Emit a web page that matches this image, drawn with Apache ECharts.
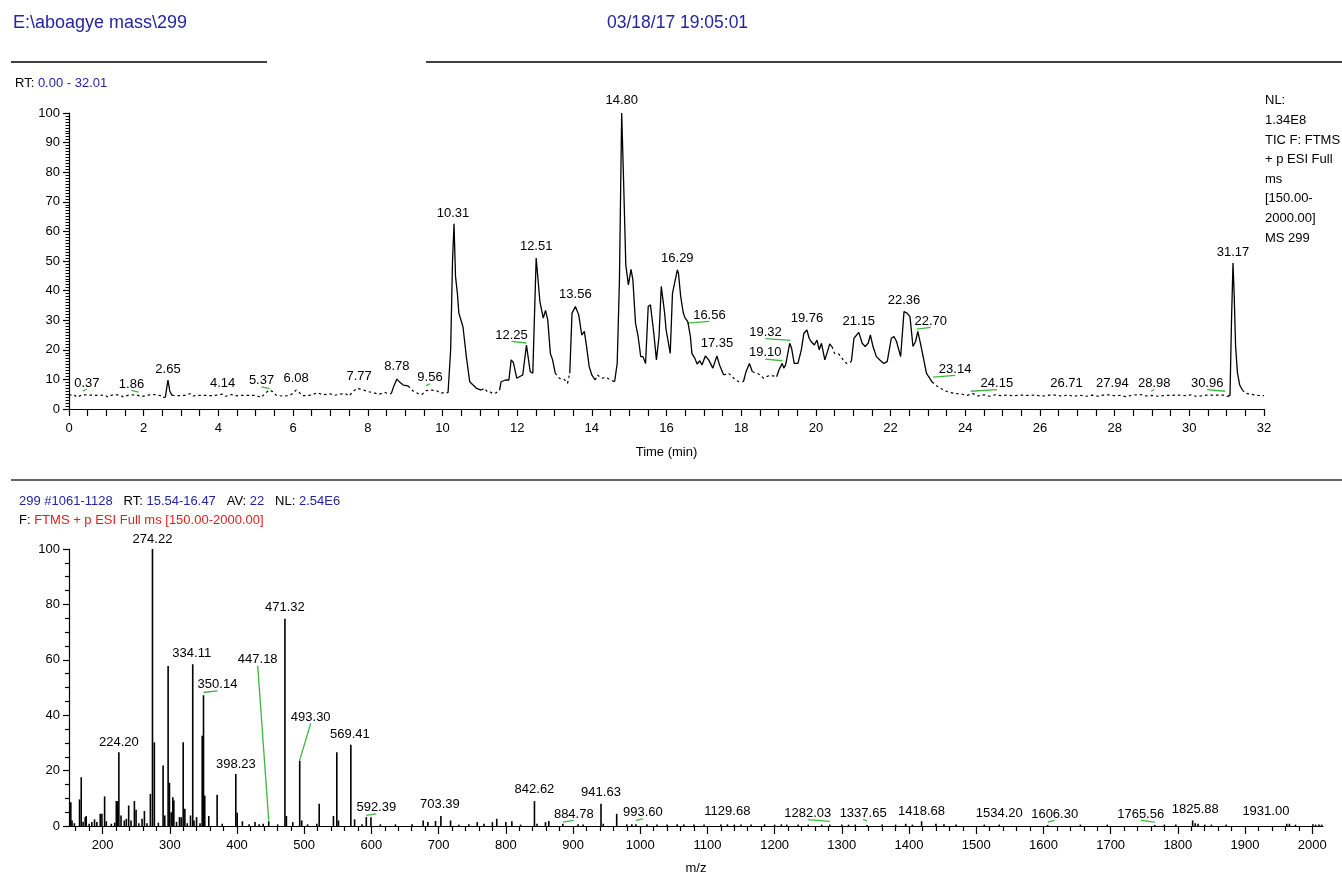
<!DOCTYPE html>
<html>
<head>
<meta charset="utf-8">
<script src="https://cdn.jsdelivr.net/npm/echarts@6/dist/echarts.min.js"></script>
<style>
html,body{margin:0;padding:0;background:#fff;}
#chart{width:1342px;height:876px;}
</style>
</head>
<body>
<div id="chart"></div>
<script>
// ---------------- Chromatogram (TIC) ----------------
const rtTime = [0.00,0.12,0.22,0.35,0.55,0.75,0.95,1.05,1.15,1.35,1.45,1.60,1.80,1.95,2.10,2.30,2.45,2.52,2.58,2.65,2.70,2.76,2.90,3.10,3.25,3.32,3.45,3.65,3.85,4.00,4.10,4.20,4.35,4.45,4.60,4.80,5.00,5.15,5.25,5.37,5.47,5.55,5.70,5.90,6.00,6.08,6.15,6.25,6.40,6.55,6.65,6.80,7.00,7.10,7.25,7.40,7.50,7.60,7.71,7.85,8.00,8.15,8.30,8.45,8.55,8.63,8.70,8.78,8.86,8.95,9.08,9.20,9.35,9.45,9.56,9.70,9.85,9.95,10.05,10.15,10.22,10.27,10.31,10.35,10.40,10.44,10.48,10.55,10.64,10.73,10.82,10.91,11.04,11.13,11.20,11.26,11.35,11.44,11.53,11.57,11.69,11.78,11.84,11.90,11.99,12.06,12.15,12.25,12.29,12.35,12.42,12.51,12.56,12.61,12.70,12.76,12.82,12.89,12.95,13.02,13.13,13.26,13.35,13.41,13.47,13.51,13.56,13.65,13.73,13.80,13.86,13.93,14.00,14.09,14.15,14.27,14.37,14.51,14.61,14.68,14.74,14.80,14.85,14.91,14.98,15.05,15.10,15.17,15.24,15.31,15.37,15.44,15.51,15.57,15.66,15.73,15.80,15.86,15.95,15.99,16.04,16.10,16.16,16.29,16.32,16.38,16.45,16.50,16.57,16.64,16.68,16.76,16.82,16.89,16.95,17.04,17.13,17.24,17.35,17.42,17.53,17.66,17.80,17.93,18.06,18.13,18.22,18.30,18.42,18.51,18.60,18.73,18.86,18.95,19.01,19.10,19.14,19.19,19.30,19.35,19.42,19.52,19.61,19.68,19.76,19.82,19.87,19.96,20.03,20.09,20.15,20.24,20.31,20.37,20.43,20.50,20.61,20.73,20.82,20.95,21.02,21.15,21.24,21.32,21.40,21.46,21.53,21.62,21.72,21.82,21.91,22.02,22.09,22.16,22.27,22.36,22.44,22.52,22.60,22.67,22.73,22.80,22.89,22.96,23.02,23.11,23.20,23.33,23.51,23.69,23.87,24.05,24.20,24.35,24.50,24.65,24.80,24.95,25.10,25.30,25.50,25.70,25.90,26.05,26.25,26.45,26.60,26.75,26.90,27.05,27.25,27.40,27.55,27.70,27.85,28.00,28.15,28.30,28.50,28.70,28.85,29.00,29.15,29.35,29.50,29.70,29.90,30.05,30.20,30.40,30.55,30.75,30.95,31.02,31.09,31.13,31.17,31.20,31.24,31.29,31.35,31.42,31.51,31.65,31.80,32.00];
const rtIntensity = [4.6,4.9,4.0,4.8,4.7,4.6,4.7,4.0,4.7,4.8,4.1,4.7,4.8,4.2,4.7,4.9,4.5,3.9,4.0,9.8,6.0,4.6,4.5,4.6,5.2,4.4,4.6,4.6,4.5,4.7,5.0,4.3,4.9,4.4,4.6,4.6,4.6,3.9,5.3,6.4,5.8,4.6,4.4,4.5,5.3,6.4,5.8,4.5,4.5,5.0,5.5,4.8,5.1,4.6,5.0,5.2,4.4,5.8,7.0,6.6,5.9,5.5,5.0,5.6,5.2,5.2,7.8,10.1,9.0,8.1,7.8,6.2,5.2,4.9,6.2,6.4,6.2,5.3,5.6,5.5,20.0,50.0,62.6,44.8,39.1,32.4,31.8,27.8,17.7,9.2,8.1,7.0,6.4,7.0,5.8,5.9,5.2,5.5,6.4,9.2,9.8,9.8,16.6,15.7,10.4,10.9,11.5,21.6,21.1,12.6,12.1,51.0,50.4,36.3,30.7,33.3,30.1,18.8,16.6,12.1,10.4,10.0,8.7,12.1,32.4,32.9,34.6,31.8,25.0,26.2,21.1,14.3,11.5,9.8,11.5,10.4,10.7,9.8,9.2,15.4,43.6,100.0,77.5,48.7,41.9,47.2,43.6,29.0,24.5,17.7,17.7,15.4,34.6,35.2,25.6,16.6,24.5,41.4,32.4,26.7,27.3,18.8,39.1,47.0,45.9,38.0,32.4,30.7,29.5,24.5,18.8,17.1,15.2,16.3,14.9,17.9,16.6,13.8,17.9,14.9,11.5,12.1,10.4,9.2,9.2,12.6,15.4,12.6,12.1,11.5,10.4,11.2,11.2,10.9,13.2,15.4,13.8,14.9,22.2,20.5,15.4,15.4,20.0,25.6,26.7,23.9,22.8,21.6,23.3,20.0,22.2,16.6,19.4,22.0,21.1,18.8,18.6,16.6,15.4,16.0,23.9,25.9,22.2,21.1,22.2,25.0,21.1,17.7,16.5,15.4,16.0,23.9,24.5,22.8,17.7,32.9,32.4,31.2,21.1,22.8,26.2,22.2,16.6,12.1,10.9,9.2,8.1,7.0,5.9,5.3,5.1,4.6,5.2,4.4,4.8,4.3,4.8,4.5,4.7,4.5,4.7,4.6,4.7,4.3,4.7,4.7,4.3,4.8,4.2,4.7,4.3,4.7,4.3,4.7,4.8,4.5,4.6,4.2,4.7,4.9,4.4,4.6,4.3,4.6,4.6,4.7,4.5,4.8,4.2,4.6,4.7,4.7,4.7,4.2,4.7,30.0,49.3,39.1,21.1,12.1,8.1,6.4,5.3,5.0,4.6,4.5];
// stretches of the trace drawn as a solid line (rest is dotted baseline)
const rtSolidSpans = [[2.50,2.80],[8.60,9.10],[10.15,11.00],[11.55,13.00],[13.38,14.05],[14.62,17.50],[18.08,18.35],[18.97,20.45],[20.95,23.15],[31.05,31.45]];
const rtTicks = [0,2,4,6,8,10,12,14,16,18,20,22,24,26,28,30,32];

// peak annotations (label text = retention time), level = annotation anchor height
const rtLabelTexts  = ['0.37','1.86','2.65','4.14','5.37','6.08','7.77','8.78','9.56','10.31','12.25','12.51','13.56','14.80','16.29','16.56','17.35','19.10','19.32','19.76','21.15','22.36','22.70','23.14','24.15','26.71','27.94','28.98','30.96','31.17'];
const rtLabelLevels = [6.1,5.7,10.7,6.0,6.9,7.7,8.2,11.8,7.9,63.5,22.3,52.1,36.1,101.4,48.0,29.0,19.3,16.3,23.2,28.0,27.0,34.1,27.0,10.8,6.0,6.0,6.0,6.0,6.0,50.1];
// label nudges in pixels [dx, dy]
const rtLabelNudge = [[4,0],[-7,0],[0,0],[-1,0],[-8,0],[0,0],[0,0],[0,0],[4,0],[-1,0],[-15,0],[0,0],[0,0],[0,0],[0,0],[22,0],[0,0],[-17,0],[-25,0],[0,0],[0,0],[0,0],[14,0],[22,0],[26,0],[0,0],[0,0],[3,0],[-18,0],[0,0]];

// ---------------- Mass spectrum ----------------
const specMz = [152.7,154.5,158,165.7,168.2,171,174.1,175.6,180,184,188,191.5,196.5,199,203,205.5,213,218,220.4,222.4,224.20,227.4,232.3,235.3,238.8,242.3,247.3,249.8,254,258.7,262.2,266,271.1,274.22,277,283,290,292.5,297.5,299.5,302,304.5,306,310,314.4,316.9,319.9,322.4,326,330.8,334.11,336,339.8,345,348.2,350.14,352,358,370.4,378,398.23,400.3,408,418,426.8,433,439,447.18,460.5,471.32,473.5,483,493.30,496.3,505,518.8,522.3,543.5,548.5,551,569.41,575,586,592.39,599.3,613.3,635.7,660.5,677,684,695.4,703.39,717.8,730,745,757.5,767.5,780,786.5,800,809,822,842.62,846.5,859,864,884.78,907.5,915,941.63,945,965,980,987.5,993.6,1010,1025,1040,1055,1065,1080,1095,1120,1129.68,1140,1150,1165,1185,1200,1210,1218,1235,1250,1270,1282.03,1300,1310,1320,1337.65,1360,1380,1395,1405,1418.68,1440,1452,1470,1512,1534.2,1606.3,1655,1695,1765.56,1780,1797,1822,1825.88,1830,1840,1850,1872,1962,1966,1975,2001,2005,2010,2014];
const specIntensity = [8.6,2.0,1.0,9.6,17.6,1.5,3.2,3.6,0.8,1.4,2.4,1.4,4.4,4.4,10.7,1.7,0.8,1.2,9.0,9.0,26.6,3.8,2.0,2.6,7.4,2.0,9.0,5.9,1.0,2.6,5.4,1.0,11.6,100.0,30.2,1.2,21.8,3.8,57.8,15.6,5.0,10.4,9.2,1.5,3.2,3.2,30.2,6.2,1.0,3.8,58.4,2.0,3.2,1.0,32.6,47.2,11.0,3.6,11.3,0.8,18.8,4.8,1.7,0.6,1.4,0.6,0.8,1.7,0.6,74.8,3.6,1.4,23.6,2.0,0.6,0.8,8.0,3.6,26.6,2.0,29.3,2.4,0.6,3.2,3.2,0.6,0.6,0.6,2.0,1.4,1.8,3.6,2.0,0.5,0.6,1.4,0.8,1.4,2.6,1.4,1.7,0.5,9.0,0.8,1.4,1.8,0.8,0.6,0.5,8.0,0.8,4.4,0.6,0.6,0.6,0.6,0.5,0.5,0.6,0.5,0.5,0.5,0.5,0.6,0.5,0.5,0.5,0.6,0.5,0.6,0.5,0.5,0.5,0.5,0.5,0.5,0.5,0.5,0.4,0.5,0.5,0.8,0.5,1.7,0.8,0.6,0.5,0.5,0.5,0.4,0.5,0.5,0.4,0.5,0.5,2.0,1.0,0.8,0.5,0.5,0.5,0.8,0.8,0.5,0.6,0.5,0.5,0.5];
const specMajorTicks = [200,300,400,500,600,700,800,900,1000,1100,1200,1300,1400,1500,1600,1700,1800,1900,2000];

const specLabelTexts  = ['224.20','274.22','334.11','350.14','398.23','447.18','471.32','493.30','569.41','592.39','703.39','842.62','884.78','941.63','993.60','1129.68','1282.03','1337.65','1418.68','1534.20','1606.30','1765.56','1825.88','1931.00'];
const specLabelLevels = [27.3,100.7,59.5,48.2,19.5,2.0,76.1,23.8,30.3,3.8,4.8,10.2,1.4,9.1,2.0,2.4,1.7,1.8,2.5,1.5,1.4,1.4,3.1,2.2];
const specLabelNudge  = [[0,0],[0,0],[-1,0],[14,0],[0,0],[-11,-153],[0,0],[11,-35],[-1,0],[10,0],[-1,0],[0,0],[11,0],[0,0],[7,0],[0,0],[-22,0],[-4,0],[0,0],[0,0],[7,0],[-14,0],[0,0],[0,0]];

// ---------------- build ----------------
const FONT = '"Liberation Sans", Arial, sans-serif';
const BLUE = '#2424a6', RED = '#e0201e', GREEN = '#3cb83c';

function inSolid(t){ return rtSolidSpans.some(s => t >= s[0] && t <= s[1]); }
const solidData = [], dottedData = [];
for (let i = 0; i < rtTime.length; i++) {
  const prevSolid = i > 0 ? inSolid((rtTime[i-1]+rtTime[i])/2) : null;
  const nextSolid = i < rtTime.length-1 ? inSolid((rtTime[i]+rtTime[i+1])/2) : null;
  const s = prevSolid === true || nextSolid === true;
  const d = prevSolid === false || nextSolid === false;
  solidData.push([rtTime[i], s ? rtIntensity[i] : null]);
  dottedData.push([rtTime[i], d ? rtIntensity[i] : null]);
}

function labelRenderer(texts, nudges){
  return function(params, api){
    const i = params.dataIndex;
    const p = api.coord([api.value(0), api.value(1)]);
    const dx = nudges[i][0], dy = nudges[i][1];
    const lx = p[0] + dx, ly = p[1] + dy;
    const children = [];
    if (Math.abs(dx) > 1.5 || Math.abs(dy) > 1.5) {
      children.push({type:'line', shape:{x1:p[0], y1:p[1], x2:lx, y2:ly-1.7}, style:{stroke:GREEN, lineWidth:1.3}});
    }
    children.push({type:'text', x:lx, y:ly-8, style:{text:texts[i], font:'13px '+FONT, fill:'#000', align:'center', verticalAlign:'middle'}});
    return {type:'group', children};
  };
}

const specMinorTicks = [];
for (let v = 160; v <= 2000; v += 20) if (v % 100 !== 0) specMinorTicks.push(v);

const axisCommon = {
  axisLine:{lineStyle:{color:'#000', width:1.2}},
  axisTick:{lineStyle:{color:'#000', width:1.2}},
  axisLabel:{color:'#000', fontSize:13, fontFamily:FONT},
  splitLine:{show:false}
};

const chart = echarts.init(document.getElementById('chart'), null, {renderer:'canvas'});
const option = {
  animation:false,
  backgroundColor:'#fff',
  grid:[
    {left:69, top:113, width:1195, height:296},
    {left:69, top:549, width:1254, height:278}
  ],
  xAxis:[
    Object.assign({}, axisCommon, {gridIndex:0, type:'value', min:0, max:32, interval:2, position:'bottom',
      axisTick:{length:7, lineStyle:{color:'#000', width:1.2}},
      minorTick:{show:true, splitNumber:4, length:7, lineStyle:{color:'#000', width:1.2}},
      axisLabel:{color:'#000', fontSize:13, fontFamily:FONT, margin:13, formatter: v => rtTicks.includes(v) ? String(v) : ''},
      name:'Time (min)', nameLocation:'middle', nameGap:37, nameTextStyle:{color:'#000', fontSize:13, fontFamily:FONT}}),
    Object.assign({}, axisCommon, {gridIndex:1, type:'value', min:150, max:2016, position:'bottom',
      axisTick:{length:8, customValues:specMajorTicks, lineStyle:{color:'#000', width:1.2}},
      axisLabel:{color:'#000', fontSize:13, fontFamily:FONT, margin:13, customValues:specMajorTicks, formatter: v => String(v)},
      name:'m/z', nameLocation:'middle', nameGap:36, nameTextStyle:{color:'#000', fontSize:13, fontFamily:FONT}}),
    {gridIndex:1, type:'value', min:150, max:2016, position:'bottom', offset:0,
      axisLine:{show:false}, axisLabel:{show:false}, splitLine:{show:false},
      axisTick:{show:true, length:5, customValues:specMinorTicks, lineStyle:{color:'#000', width:1.2}}}
  ],
  yAxis:[
    Object.assign({}, axisCommon, {gridIndex:0, type:'value', min:0, max:100, interval:10,
      axisTick:{length:6, lineStyle:{color:'#000', width:1.2}},
      minorTick:{show:true, splitNumber:10, length:3.5, lineStyle:{color:'#000', width:1}},
      axisLabel:{color:'#000', fontSize:13, fontFamily:FONT, margin:9}}),
    Object.assign({}, axisCommon, {gridIndex:1, type:'value', min:0, max:100, interval:20,
      axisTick:{length:6, lineStyle:{color:'#000', width:1.2}},
      minorTick:{show:true, splitNumber:4, length:4, lineStyle:{color:'#000', width:1.2}},
      axisLabel:{color:'#000', fontSize:13, fontFamily:FONT, margin:9}})
  ],
  series:[
    {type:'line', xAxisIndex:0, yAxisIndex:0, data:dottedData, showSymbol:false, connectNulls:false,
      lineStyle:{color:'#000', width:1.2, type:[2.5,3]}},
    {type:'line', xAxisIndex:0, yAxisIndex:0, data:solidData, showSymbol:false, connectNulls:false,
      lineStyle:{color:'#000', width:1.3}},
    {type:'custom', xAxisIndex:0, yAxisIndex:0, clip:false,
      data: rtLabelTexts.map((s,i) => [parseFloat(s), rtLabelLevels[i]]),
      renderItem: labelRenderer(rtLabelTexts, rtLabelNudge)},
    {type:'custom', xAxisIndex:1, yAxisIndex:1,
      data: specMz.map((m,i) => [m, specIntensity[i]]),
      renderItem: function(params, api){
        const a = api.coord([api.value(0), 0]);
        const b = api.coord([api.value(0), api.value(1)]);
        return {type:'line', shape:{x1:a[0], y1:a[1], x2:b[0], y2:b[1]}, style:{stroke:'#000', lineWidth:1.6}};
      }},
    {type:'custom', xAxisIndex:1, yAxisIndex:1, clip:false,
      data: specLabelTexts.map((s,i) => [parseFloat(s), specLabelLevels[i]]),
      renderItem: labelRenderer(specLabelTexts, specLabelNudge)}
  ],
  graphic:[
    {type:'text', x:13, y:23, style:{text:'E:\\aboagye mass\\299', font:'18px '+FONT, fill:BLUE, verticalAlign:'middle'}},
    {type:'text', x:607, y:23, style:{text:'03/18/17 19:05:01', font:'17.5px '+FONT, fill:BLUE, verticalAlign:'middle'}},
    {type:'line', shape:{x1:11, y1:62, x2:267, y2:62}, style:{stroke:'#000', lineWidth:1.3}},
    {type:'line', shape:{x1:426, y1:62, x2:1342, y2:62}, style:{stroke:'#000', lineWidth:1.3}},
    {type:'text', x:15, y:83, style:{text:'{k|RT:} {v|0.00 - 32.01}', font:'13px '+FONT, verticalAlign:'middle',
      rich:{k:{fill:'#000', font:'13px '+FONT}, v:{fill:BLUE, font:'13px '+FONT}}}},
    {type:'text', x:1265, y:91, style:{text:'NL:\n1.34E8\nTIC F: FTMS\n+ p ESI Full\nms\n[150.00-\n2000.00]\nMS 299', font:'13px '+FONT, fill:'#000', lineHeight:19.6, verticalAlign:'top'}},
    {type:'line', shape:{x1:11, y1:480, x2:1342, y2:480}, style:{stroke:'#333', lineWidth:1.6}},
    {type:'text', x:19, y:501, style:{text:'{v|299 #1061-1128}   {k|RT:} {v|15.54-16.47}   {k|AV:} {v|22}   {k|NL:} {v|2.54E6}', font:'13px '+FONT, verticalAlign:'middle',
      rich:{k:{fill:'#000', font:'13px '+FONT}, v:{fill:BLUE, font:'13px '+FONT}}}},
    {type:'text', x:19, y:520, style:{text:'{k|F:} {r|FTMS + p ESI Full ms [150.00-2000.00]}', font:'13px '+FONT, verticalAlign:'middle',
      rich:{k:{fill:'#000', font:'13px '+FONT}, r:{fill:RED, font:'13px '+FONT}}}}
  ]
};
chart.setOption(option);
</script>
</body>
</html>
